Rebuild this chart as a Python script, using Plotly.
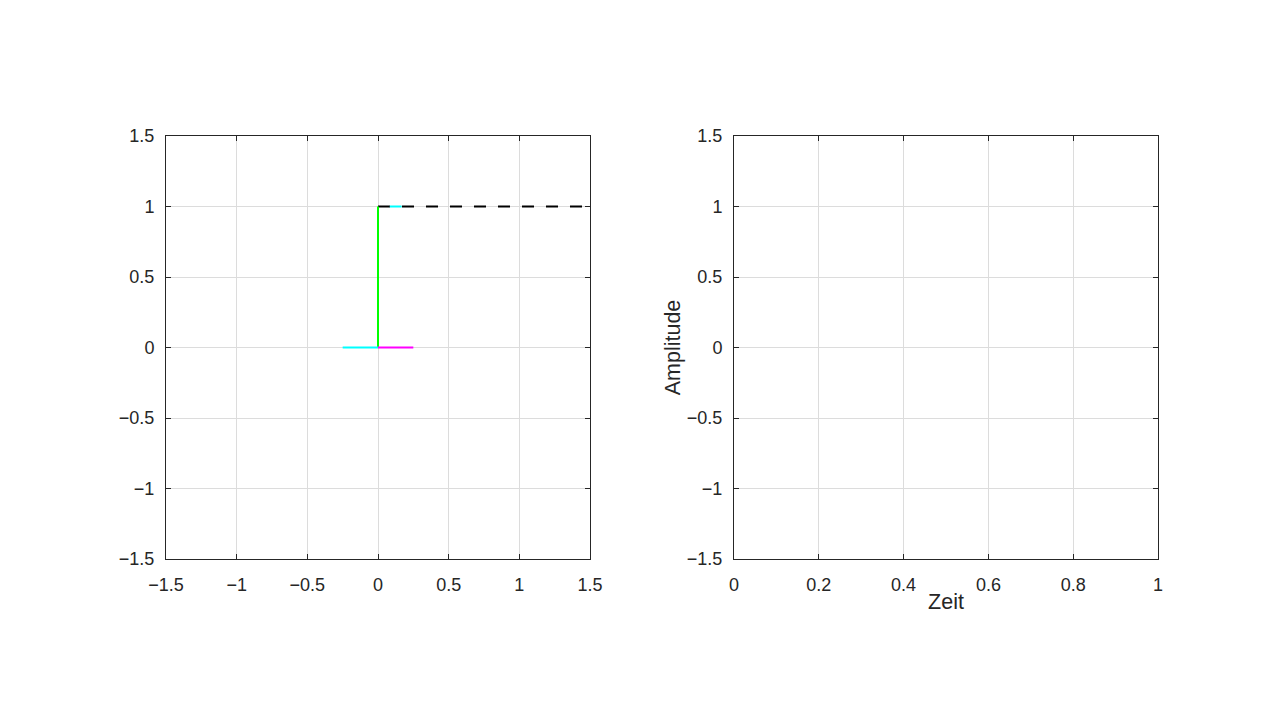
import plotly.graph_objects as go

# Left panel segments
dash_x = [0, 1.5]
dash_y = [1, 1]
green_x = [0, 0]
green_y = [0, 1]
cyan_bottom_x = [-0.25, 0]
cyan_bottom_y = [0, 0]
magenta_x = [0, 0.25]
magenta_y = [0, 0]
cyan_top_x = [0.0833, 0.1667]
cyan_top_y = [1, 1]

left_ticks = [-1.5, -1, -0.5, 0, 0.5, 1, 1.5]
left_ticklabels = ["\u22121.5", "\u22121", "\u22120.5", "0", "0.5", "1", "1.5"]
right_xticks = [0, 0.2, 0.4, 0.6, 0.8, 1]
right_xticklabels = ["0", "0.2", "0.4", "0.6", "0.8", "1"]

fig = go.Figure()
fig.add_trace(go.Scatter(x=dash_x, y=dash_y, mode="lines",
                         line=dict(color="black", width=2, dash="12px,12px"),
                         xaxis="x", yaxis="y", showlegend=False))
fig.add_trace(go.Scatter(x=green_x, y=green_y, mode="lines",
                         line=dict(color="#00ff00", width=2),
                         xaxis="x", yaxis="y", showlegend=False))
fig.add_trace(go.Scatter(x=cyan_bottom_x, y=cyan_bottom_y, mode="lines",
                         line=dict(color="#00ffff", width=2),
                         xaxis="x", yaxis="y", showlegend=False))
fig.add_trace(go.Scatter(x=magenta_x, y=magenta_y, mode="lines",
                         line=dict(color="#ff00ff", width=2),
                         xaxis="x", yaxis="y", showlegend=False))
fig.add_trace(go.Scatter(x=cyan_top_x, y=cyan_top_y, mode="lines",
                         line=dict(color="#00ffff", width=2),
                         xaxis="x", yaxis="y", showlegend=False))
# invisible trace for right panel
fig.add_trace(go.Scatter(x=[None], y=[None], mode="lines",
                         xaxis="x2", yaxis="y2", showlegend=False))

axcol = "#262626"
common = dict(showline=True, linecolor=axcol, linewidth=1, mirror="ticks",
              ticks="inside", ticklen=5, tickcolor=axcol,
              showgrid=True, gridcolor="#dcdcdc", gridwidth=1,
              zeroline=False, tickfont=dict(size=18, color=axcol),
              automargin=False)

off = 8  # default page body margin
W = 1158 - 166
fig.update_layout(
    width=1280, height=720,
    paper_bgcolor="white", plot_bgcolor="white",
    margin=dict(l=166 - off, r=1280 - 1158 + off, t=136 - off, b=720 - 559 + off, pad=0),
    font=dict(family="Liberation Sans, Arial, sans-serif", color=axcol),
    xaxis=dict(domain=[0, 424/W], range=[-1.5, 1.5], ticklabelstandoff=9,
               tickvals=left_ticks, ticktext=left_ticklabels, anchor="y", **common),
    yaxis=dict(domain=[0, 1], range=[-1.5, 1.5], ticklabelstandoff=7,
               tickvals=left_ticks, ticktext=left_ticklabels, anchor="x", **common),
    xaxis2=dict(domain=[(734-166)/W, 1], range=[0, 1], ticklabelstandoff=9,
                tickvals=right_xticks, ticktext=right_xticklabels, anchor="y2",
                title=dict(text="Zeit", font=dict(size=21.5, color=axcol), standoff=0), **common),
    yaxis2=dict(domain=[0, 1], range=[-1.5, 1.5], ticklabelstandoff=7,
                tickvals=left_ticks, ticktext=left_ticklabels, anchor="x2",
                title=dict(text="Amplitude", font=dict(size=21.5, color=axcol), standoff=0), **common),
)

fig.write_html("out.html")
